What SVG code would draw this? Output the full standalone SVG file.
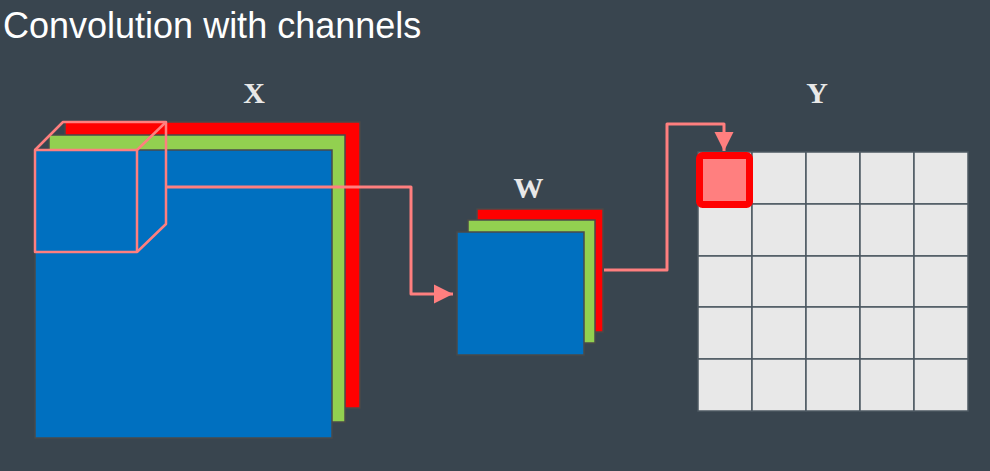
<svg xmlns="http://www.w3.org/2000/svg" width="990" height="471" viewBox="0 0 990 471">
<defs>
<style>
.bg{fill:#39454f}
.title{font-family:"Liberation Sans",Arial,sans-serif;font-size:36px;fill:#ffffff}
.lbl{font-family:"Liberation Serif","Times New Roman",serif;font-size:30px;font-weight:bold;fill:#e8e8e8;text-anchor:middle}
.r{fill:#ff0000;stroke:#4a4a4a;stroke-width:1.5}
.g{fill:#92d050;stroke:#4a4a4a;stroke-width:1.5}
.b{fill:#0070c0;stroke:#4a4a4a;stroke-width:1.5}
.cube{fill:none;stroke:#ff7f7f;stroke-width:2.5;stroke-linejoin:round}
.conn{fill:none;stroke:#ff7f7f;stroke-width:3;stroke-linejoin:round}
.cell{fill:#e8e8e8;stroke:#4c5862;stroke-width:1.5}
</style>
<marker id="ah" viewBox="0 0 10 10" refX="10" refY="5" markerWidth="6.5" markerHeight="6.5" markerUnits="strokeWidth" orient="auto">
<path d="M0,0 L10,5 L0,10 z" fill="#ff7f7f"/>
</marker>
</defs>
<rect class="bg" x="0" y="0" width="990" height="471"/>
<text class="title" x="3" y="38">Convolution with channels</text>

<g id="X">
<rect class="r" x="65" y="122" width="295" height="286"/>
<rect class="g" x="49" y="135" width="296" height="287"/>
<rect class="b" x="35" y="150" width="297" height="288"/>
<text class="lbl" x="254" y="103">X</text>
</g>

<g id="cube">
<rect class="cube" x="35" y="150" width="102" height="102"/>
<polyline class="cube" points="35,150 63,122 166,122 166,224 137,252"/>
<line class="cube" x1="137" y1="150" x2="166" y2="122"/>
</g>

<g id="W">
<rect class="r" x="477" y="209" width="126" height="123"/>
<rect class="g" x="468" y="220" width="127" height="123"/>
<rect class="b" x="457" y="232" width="127" height="123"/>
<text class="lbl" x="528.5" y="198">W</text>
</g>

<g id="Y">
<g>
<rect class="cell" x="698" y="152" width="54" height="52"/>
<rect class="cell" x="752" y="152" width="54" height="52"/>
<rect class="cell" x="806" y="152" width="54" height="52"/>
<rect class="cell" x="860" y="152" width="54" height="52"/>
<rect class="cell" x="914" y="152" width="54" height="52"/>
<rect class="cell" x="698" y="204" width="54" height="52"/>
<rect class="cell" x="752" y="204" width="54" height="52"/>
<rect class="cell" x="806" y="204" width="54" height="52"/>
<rect class="cell" x="860" y="204" width="54" height="52"/>
<rect class="cell" x="914" y="204" width="54" height="52"/>
<rect class="cell" x="698" y="256" width="54" height="51"/>
<rect class="cell" x="752" y="256" width="54" height="51"/>
<rect class="cell" x="806" y="256" width="54" height="51"/>
<rect class="cell" x="860" y="256" width="54" height="51"/>
<rect class="cell" x="914" y="256" width="54" height="51"/>
<rect class="cell" x="698" y="307" width="54" height="52"/>
<rect class="cell" x="752" y="307" width="54" height="52"/>
<rect class="cell" x="806" y="307" width="54" height="52"/>
<rect class="cell" x="860" y="307" width="54" height="52"/>
<rect class="cell" x="914" y="307" width="54" height="52"/>
<rect class="cell" x="698" y="359" width="54" height="52"/>
<rect class="cell" x="752" y="359" width="54" height="52"/>
<rect class="cell" x="806" y="359" width="54" height="52"/>
<rect class="cell" x="860" y="359" width="54" height="52"/>
<rect class="cell" x="914" y="359" width="54" height="52"/>
</g>
<rect x="699.5" y="155.5" width="50" height="49" rx="3" fill="#ff7f7f" stroke="#ff0000" stroke-width="7"/>
<text class="lbl" x="817" y="103">Y</text>
</g>

<g id="connectors">
<polyline class="conn" points="166,187 411,187 411,294 453,294" marker-end="url(#ah)"/>
<polyline class="conn" points="604,270 667,270 667,124 724,124 724,151" marker-end="url(#ah)"/>
</g>
</svg>
